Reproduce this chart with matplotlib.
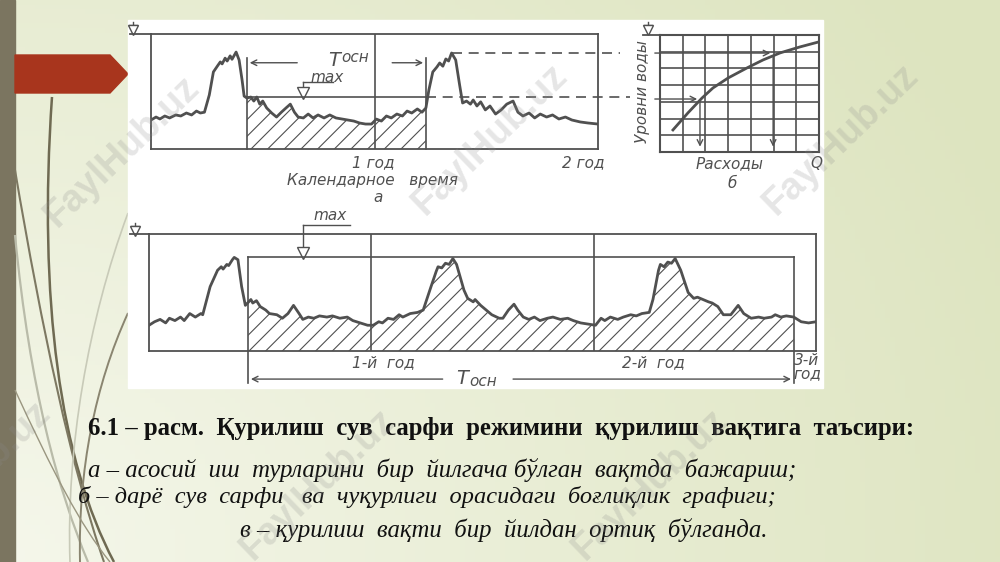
import numpy as np
import matplotlib.pyplot as plt
from matplotlib.path import Path
from matplotlib.patches import PathPatch, Polygon, Rectangle

plt.rcParams['hatch.linewidth'] = 0.8

# ---- data ----
# panel a: water level over calendar time (months from panel start)
a_months = [0, 0.27, 0.48, 0.74, 1.0, 1.33, 1.6, 1.9, 2.18, 2.44, 2.65, 2.87, 3.13, 3.35, 3.56,
            3.72, 3.82, 3.98, 4.09, 4.25, 4.35, 4.57, 4.73, 4.89, 5.0, 5.15, 5.36, 5.52, 5.68, 5.84,
            6.0, 6.21, 6.48, 6.74, 7.0, 7.27, 7.48, 7.7, 7.9, 8.18, 8.44, 8.7, 8.97, 9.29, 9.6,
            9.93, 10.25, 10.57, 10.89, 11.2, 11.52, 11.84, 12.1, 12.37, 12.64, 12.9, 13.2, 13.5,
            13.75, 14.0, 14.3, 14.55, 14.76, 14.92, 15.13, 15.35, 15.5, 15.67, 15.83, 15.98, 16.14,
            16.36, 16.57, 16.73, 16.94, 17.15, 17.3, 17.5, 17.7, 17.95, 18.2, 18.5, 18.8, 19.1,
            19.44, 19.7, 19.97, 20.3, 20.6, 20.9, 21.24, 21.56, 21.9, 22.25, 22.6, 23.05, 23.47, 24.0]
a_levels = [2.52, 2.78, 2.61, 2.87, 2.7, 2.96, 2.87, 3.13, 2.96, 3.3, 3.13, 3.2, 4.7, 6.7, 7.2,
            7.57, 7.4, 7.9, 7.65, 8.1, 7.8, 8.43, 7.74, 6.0, 4.6, 4.43, 4.52, 4.17, 4.52, 3.9,
            4.17, 3.57, 3.13, 2.78, 3.2, 3.6, 3.9, 3.2, 2.78, 2.7, 3.04, 2.7, 2.96, 2.7, 2.96,
            2.7, 2.61, 2.52, 2.43, 2.26, 2.17, 2.17, 2.6, 2.43, 2.87, 2.7, 3.04, 2.87,
            3.3, 3.13, 3.48, 3.2, 3.57, 5.13, 6.7, 7.13, 7.48, 7.2, 7.83, 7.65, 8.35,
            7.74, 5.57, 4.0, 4.17, 3.9, 4.26, 3.74, 4.1, 3.4, 3.74, 3.04, 3.4, 3.9,
            4.17, 3.2, 2.87, 3.13, 2.7, 3.04, 2.78, 2.96, 2.61, 2.78, 2.52, 2.35, 2.26, 2.17]
a_work = (5.15, 14.76)      # T_osn start / end
a_max = 4.52                # max level line

# panel b: rating curve (grid units)
b_q = [0.57, 1.23, 1.85, 2.33, 3.0, 3.83, 4.54, 5.29, 6.17, 7.0]
b_h = [1.32, 2.34, 3.23, 3.83, 4.43, 5.03, 5.51, 5.93, 6.29, 6.59]
b_read_h = [3.17, 5.92]
b_read_q = [1.76, 4.98]

# panel c: three years
c_months = [0.0, 0.3, 0.6, 0.9, 1.1, 1.4, 1.7, 1.9, 2.2, 2.5,
            2.8, 2.9, 3.3, 3.7, 3.9, 4.0, 4.2, 4.3, 4.5, 4.6,
            4.8, 5.0, 5.2, 5.5, 5.6, 5.8, 6.0, 6.3, 6.5, 6.9,
            7.2, 7.5, 7.8, 8.1, 8.3, 8.6, 8.9, 9.2, 9.6, 9.9,
            10.3, 10.7, 11.0, 11.4, 11.8, 12.1, 12.4, 12.6, 12.9, 13.2,
            13.5, 13.7, 14.1, 14.5, 14.8, 15.2, 15.5, 15.6, 15.8, 16.0,
            16.2, 16.4, 16.6, 17.0, 17.2, 17.5, 17.6, 17.9, 18.2, 18.5,
            18.9, 19.1, 19.4, 19.7, 19.9, 20.2, 20.5, 20.8, 21.1, 21.5,
            21.8, 22.2, 22.6, 22.9, 23.3, 23.7, 24.1, 24.4, 24.6, 24.9,
            25.3, 25.6, 26.0, 26.3, 26.6, 27.0, 27.2, 27.5, 27.6, 27.8,
            28.0, 28.2, 28.4, 28.7, 29.1, 29.4, 29.6, 29.9, 30.2, 30.4,
            30.7, 31.0, 31.4, 31.8, 32.1, 32.5, 32.9, 33.2, 33.6, 33.8,
            34.1, 34.4, 34.8, 35.2, 35.6, 36.0]
c_levels = [2.2, 2.5, 2.7, 2.4, 2.8, 2.6, 2.9, 2.6, 3.2, 2.9,
            3.2, 3.1, 5.5, 6.9, 7.2, 7.0, 7.4, 7.3, 7.8, 8.0,
            7.8, 5.5, 3.9, 4.4, 4.1, 4.3, 3.8, 3.5, 3.2, 3.1,
            2.8, 3.2, 3.9, 3.2, 2.7, 2.9, 2.8, 3.0, 2.9, 3.0,
            2.8, 2.9, 2.6, 2.4, 2.2, 2.2, 2.5, 2.4, 2.8, 2.7,
            3.1, 2.9, 3.2, 3.3, 3.5, 5.4, 6.8, 7.2, 7.1, 7.5,
            7.4, 7.9, 7.4, 5.2, 4.5, 4.2, 4.4, 3.9, 3.5, 3.1,
            2.8, 2.8, 3.5, 4.0, 3.5, 2.9, 2.7, 2.9, 2.6, 2.8,
            2.9, 2.7, 2.8, 2.6, 2.4, 2.3, 2.2, 2.8, 2.6, 2.9,
            2.7, 2.9, 3.1, 3.0, 3.2, 3.3, 4.4, 6.9, 7.4, 7.2,
            7.6, 7.5, 7.9, 6.9, 5.0, 4.5, 4.6, 4.4, 4.2, 4.1,
            3.8, 3.1, 3.1, 3.9, 3.2, 2.8, 2.9, 2.8, 2.9, 3.1,
            2.9, 3.0, 2.9, 2.5, 2.4, 2.5]
c_work = (5.35, 34.8)
c_max = 8.0
c_years = [12, 24]

caption = '6.1 – расм.  Қурилиш  сув  сарфи  режимини  қурилиш  вақтига  таъсири:'
notes = ['а – асосий  иш  турларини  бир  йилгача бўлган  вақтда  бажариш;',
         'б – дарё  сув  сарфи   ва  чуқурлиги  орасидаги  боғлиқлик  графиги;',
         'в – қурилиш  вақти  бир  йилдан  ортиқ  бўлганда.']

W, H = 1000, 562
LC = '#505050'
fig = plt.figure(figsize=(10, 5.62), dpi=100)


def frac(x0, y0, x1, y1):
    return [x0 / W, 1 - y1 / H, (x1 - x0) / W, (y1 - y0) / H]


def ptext(x, y, s, **kw):
    return fig.text(x / W, 1 - y / H, s, **kw)


# ---- slide background ----
bg = fig.add_axes([0, 0, 1, 1])
bg.set_xlim(0, W)
bg.set_ylim(H, 0)
bg.axis('off')
yy, xx = np.mgrid[0:1:120j, 0:1:200j]
t = np.clip(np.sqrt(xx ** 2 + (0.6 * (1 - yy)) ** 2) / 1.1, 0, 1)
c0 = np.array([245, 247, 235]) / 255
c1 = np.array([221, 228, 191]) / 255
bg.imshow(c0 + (c1 - c0) * t[..., None], extent=[0, W, H, 0], aspect='auto', zorder=0)
bg.add_patch(Rectangle((0, 0), 15, H, color='#7b7560', zorder=1))
bg.add_patch(Polygon([(15, 55), (110, 55), (128, 74), (110, 93), (15, 93)],
                     color='#a8351d', zorder=2))
swoosh = [
    ([(52, 97), (38, 300), (60, 460), (114, 562)], '#6f6a52', 1.8),
    ([(15, 170), (42, 330), (72, 470), (104, 562)], '#7d7862', 1.5),
    ([(15, 235), (30, 390), (58, 490), (88, 562)], '#b9bba9', 1.6),
    ([(128, 313), (95, 385), (78, 470), (80, 562)], '#8a8570', 1.4),
    ([(128, 213), (88, 320), (66, 450), (70, 562)], '#c8cab8', 1.2),
    ([(15, 390), (52, 470), (80, 525), (110, 562)], '#9a9680', 1.0),
]
for pts, col, lw in swoosh:
    p = Path(pts, [Path.MOVETO, Path.CURVE4, Path.CURVE4, Path.CURVE4])
    bg.add_patch(PathPatch(p, fc='none', ec=col, lw=lw, zorder=2))
bg.add_patch(Rectangle((128, 20), 695, 368, color='white', zorder=3))


def level_sign(x, y):
    bg.plot([x, x], [y - 8, y - 2], color=LC, lw=1, zorder=6)
    bg.plot([x - 4, x + 4], [y - 5, y - 5], color=LC, lw=1, zorder=6)
    bg.plot([x], [y], marker='v', ms=7, mfc='white', mec=LC, mew=1, zorder=6)


def max_sign(x, y_text, y_line, x_end):
    bg.plot([x, x_end], [y_text, y_text], color=LC, lw=1, zorder=6)
    bg.plot([x, x], [y_text, y_line - 6], color=LC, lw=1, zorder=6)
    bg.plot([x], [y_line - 4], marker='v', ms=8, mfc='white', mec=LC, mew=1, zorder=6)


def style_box(ax, lw=1.3):
    ax.set_facecolor('none')
    ax.set_xticks([])
    ax.set_yticks([])
    for s in ax.spines.values():
        s.set_color(LC)
        s.set_linewidth(lw)


def hatch_under(ax, tm, lv, t0, t1):
    tm = np.asarray(tm)
    lv = np.asarray(lv)
    inside = (tm > t0) & (tm < t1)
    tt = np.concatenate([[t0], tm[inside], [t1]])
    ax.fill_between(tt, 0, np.interp(tt, tm, lv), facecolor='none', edgecolor=LC,
                    hatch='//', linewidth=0)


arrow = dict(arrowstyle='->', color=LC, lw=1, mutation_scale=10)
txt = dict(color=LC, style='italic', fontsize=11, family='DejaVu Sans')
big_t = dict(color=LC, style='italic', fontsize=14, family='DejaVu Sans')

# ---- panel a ----
axA = fig.add_axes(frac(151, 34, 598, 149))
axA.set_xlim(0, 24)
axA.set_ylim(0, 10)
style_box(axA)
hatch_under(axA, a_months, a_levels, *a_work)
axA.plot(a_months, a_levels, color=LC, lw=2.0)
axA.axvline(12, color=LC, lw=1.2)
for tw in a_work:
    axA.plot([tw, tw], [0, 7.9], color=LC, lw=1.2, clip_on=False)
axA.plot(a_work, [a_max, a_max], color=LC, lw=1.2)
axA.plot([a_work[1], 25.7], [a_max, a_max], color=LC, lw=1.2, ls=(0, (6, 4)), clip_on=False)
second = np.array(a_months) > 12
ipk = np.argmax(np.where(second, a_levels, -1))
axA.plot([a_months[ipk], 25.2], [a_levels[ipk]] * 2, color=LC, lw=1.2, ls=(0, (6, 4)),
         clip_on=False)
axA.plot([-1.13, 0], [10, 10], color=LC, lw=1.3, clip_on=False)
axA.annotate('', xy=(a_work[0], 7.5), xytext=(8.0, 7.5), arrowprops=arrow, annotation_clip=False)
axA.annotate('', xy=(a_work[1], 7.5), xytext=(12.8, 7.5), arrowprops=arrow, annotation_clip=False)
ptext(334, 61, 'T', va='center', ha='center', **big_t)
ptext(341, 58, 'осн', va='center', ha='left', **txt)
ptext(310, 77, 'max', va='center', ha='left', **txt)
max_sign(303, 82, 97, 333)
level_sign(133, 30)
ptext(373, 163, '1 год', ha='center', va='center', **txt)
ptext(583, 163, '2 год', ha='center', va='center', **txt)
ptext(372, 181, 'Календарное   время', ha='center', va='center', **txt)
ptext(378, 197, 'а', ha='center', va='center', **txt)

# ---- panel b ----
axB = fig.add_axes(frac(660, 35, 819, 152))
axB.set_xlim(0, 7)
axB.set_ylim(0, 7)
style_box(axB, 1.5)
for k in range(1, 7):
    axB.axvline(k, color=LC, lw=1.2)
    axB.axhline(k, color=LC, lw=1.2)
axB.plot(b_q, b_h, color=LC, lw=2.0)
for q, h in zip(b_read_q, b_read_h):
    axB.annotate('', xy=(q, h), xytext=(-0.35, h), arrowprops=arrow, annotation_clip=False)
    axB.annotate('', xy=(q, 0.15), xytext=(q, h), arrowprops=arrow, annotation_clip=False)
axB.plot([-0.75, 0], [7, 7], color=LC, lw=1.3, clip_on=False)
level_sign(648, 30)
ptext(642, 92, 'Уровни воды', rotation=90, ha='center', va='center', **txt)
ptext(730, 164, 'Расходы', ha='center', va='center', **txt)
ptext(816, 164, 'Q', ha='center', va='center', **txt)
ptext(732, 183, 'б', ha='center', va='center', **txt)

# ---- panel c ----
axC = fig.add_axes(frac(149, 234, 816, 351))
axC.set_xlim(0, 36)
axC.set_ylim(0, 10)
style_box(axC)
hatch_under(axC, c_months, c_levels, *c_work)
axC.plot(c_months, c_levels, color=LC, lw=2.0)
for yr in c_years:
    axC.axvline(yr, color=LC, lw=1.2)
axC.plot(c_work, [c_max, c_max], color=LC, lw=1.2)
for tw in c_work:
    axC.plot([tw, tw], [c_max, -2.75], color=LC, lw=1.2, clip_on=False)
axC.plot([-1.03, 0], [10, 10], color=LC, lw=1.3, clip_on=False)
axC.annotate('', xy=(c_work[0], -2.4), xytext=(16.0, -2.4), arrowprops=arrow, annotation_clip=False)
axC.annotate('', xy=(c_work[1], -2.4), xytext=(19.5, -2.4), arrowprops=arrow, annotation_clip=False)
ptext(462, 379, 'T', va='center', ha='center', **big_t)
ptext(469, 382, 'осн', va='center', ha='left', **txt)
ptext(313, 216, 'max', va='center', ha='left', **txt)
max_sign(303, 225, 257, 350)
level_sign(135, 231)
ptext(383, 363, '1-й  год', ha='center', va='center', **txt)
ptext(653, 363, '2-й  год', ha='center', va='center', **txt)
ptext(807, 367, '3-й\nгод', ha='center', va='center', linespacing=0.9, **txt)

# ---- caption ----
serif = dict(family='Liberation Serif', color='#111111', va='center', ha='left')
ptext(88, 428, caption, fontweight='bold', fontsize=17.8, **serif)
ptext(88, 470, notes[0], style='italic', fontsize=17.8, **serif)
ptext(78, 497, notes[1], style='italic', fontsize=17.6, **serif)
ptext(240, 530, notes[2], style='italic', fontsize=17.8, **serif)

# ---- watermarks ----
for cx, cy in [(122, 152), (490, 140), (841, 140), (-27, 477), (318, 485), (650, 485)]:
    ptext(cx, cy, 'FaylHub.uz', rotation=44, ha='center', va='center', fontsize=27,
          fontweight='bold', family='Liberation Sans', color='#8c8c8c', alpha=0.22,
          zorder=10, rotation_mode='anchor')

fig.savefig('out.png', dpi=100)
